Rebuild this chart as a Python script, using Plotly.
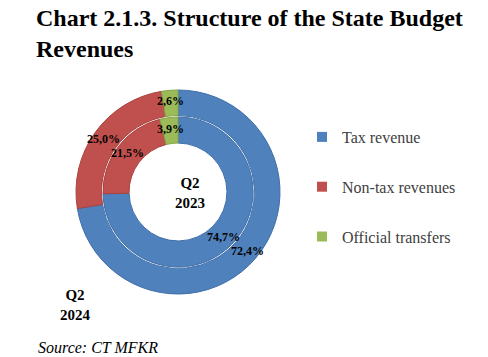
import math
import plotly.graph_objects as go

categories = ["Tax revenue", "Non-tax revenues", "Official transfers"]
q2_2024 = [72.4, 25.0, 2.6]   # outer ring
q2_2023 = [74.7, 21.5, 3.9]   # inner ring
colors = ["#4F81BD", "#C0504D", "#9BBB59"]
borders = ["#3F6EA8", "#A8423F", "#86A449"]

W, H = 488, 357
cx, cy = 178, 192          # donut center in px (from top-left)
R_out = 102
R_mid = 0.75 * R_out
R_hole = 0.48 * R_out
GAP = 1.5


def dom(r):
    return dict(x=[(cx - r) / W, (cx + r) / W],
                y=[(H - cy - r) / H, (H - cy + r) / H])


def fmt(v):
    return f"{v:.1f}".replace(".", ",") + "%"


def ring_labels(values, r_lab):
    """Label annotations at each slice's mid-angle (clockwise from 12 o'clock)."""
    out = []
    total = sum(values)
    cum = 0.0
    for v in values:
        mid = (cum + v / 2) / total * 2 * math.pi
        cum += v
        px = cx + r_lab * math.sin(mid)
        py = cy - r_lab * math.cos(mid)
        out.append(dict(text=fmt(v), x=px / W, y=(H - py) / H, xref="paper", yref="paper",
                        xanchor="center", yanchor="middle", showarrow=False,
                        font=dict(family="Liberation Serif", size=12, color="black",
                                  weight="bold")))
    return out


fig = go.Figure()
fig.add_trace(go.Pie(
    labels=categories, values=q2_2024, textinfo="none",
    hole=R_mid / R_out, sort=False, direction="clockwise", rotation=0,
    marker=dict(colors=colors, line=dict(color=borders, width=1)),
    domain=dom(R_out), showlegend=False, hoverinfo="label+percent", name="Q2 2024"))
fig.add_trace(go.Pie(
    labels=categories, values=q2_2023, textinfo="none",
    hole=R_hole / (R_mid - GAP), sort=False, direction="clockwise", rotation=0,
    marker=dict(colors=colors, line=dict(color=borders, width=1)),
    domain=dom(R_mid - GAP), showlegend=False, hoverinfo="label+percent", name="Q2 2023"))

# legend entries
for i, (c, col) in enumerate(zip(categories, colors)):
    fig.add_trace(go.Scatter(x=[None], y=[None], mode="markers", name=c,
                             legendgroup=f"g{i}",
                             marker=dict(symbol="square", size=10, color=col)))

annotations = []
annotations += ring_labels(q2_2024, (R_mid + R_out) / 2 + 2)
annotations += ring_labels(q2_2023, (R_hole + R_mid) / 2 + 1)
annotations += [
    dict(text="<b>Q2<br>2023</b>", x=190 / W, y=(H - 193) / H, xref="paper", yref="paper",
         xanchor="center", yanchor="middle", showarrow=False,
         font=dict(family="Liberation Serif", size=15, color="black")),
    dict(text="<b>Q2<br>2024</b>", x=75 / W, y=(H - 305) / H, xref="paper", yref="paper",
         xanchor="center", yanchor="middle", showarrow=False,
         font=dict(family="Liberation Serif", size=15, color="black")),
    dict(text="<i>Source: CT MFKR</i>", x=36 / W, y=(H - 347) / H, xref="paper", yref="paper",
         xanchor="left", yanchor="middle", showarrow=False,
         font=dict(family="Liberation Serif", size=16, color="black")),
]

fig.update_layout(
    width=W, height=H,
    margin=dict(l=0, r=0, t=0, b=0),
    paper_bgcolor="white", plot_bgcolor="rgba(0,0,0,0)",
    xaxis=dict(visible=False), yaxis=dict(visible=False),
    title=dict(text="Chart 2.1.3. Structure of the State Budget<br>Revenues",
               x=36 / W, xanchor="left", y=1 - 26 / H, yanchor="top", yref="container",
               font=dict(family="Liberation Serif", size=24, color="black", weight="bold")),
    legend=dict(x=302 / W, y=(H - 120) / H, xanchor="left", yanchor="top",
                tracegroupgap=26, itemwidth=30,
                font=dict(family="Liberation Serif", size=16, color="#404040"),
                bgcolor="rgba(0,0,0,0)"),
    annotations=annotations,
)

fig.write_html("out.html", config={"displayModeBar": False},
               post_script="document.body.style.margin='0px';")
